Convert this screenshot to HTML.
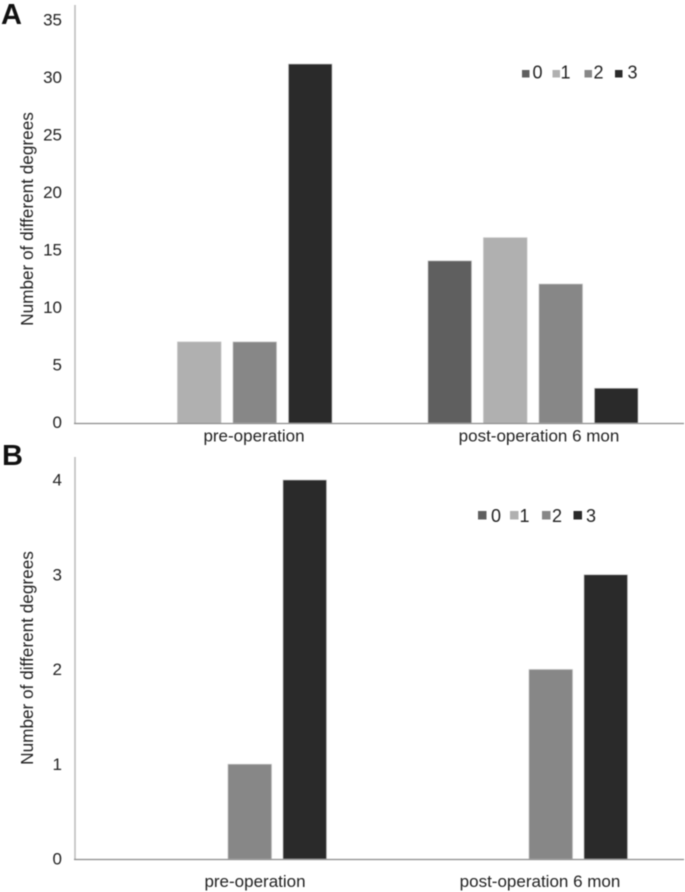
<!DOCTYPE html>
<html>
<head>
<meta charset="utf-8">
<style>
html,body{margin:0;padding:0;background:#fff;width:685px;height:892px;overflow:hidden}
svg{display:block;font-family:"Liberation Sans",sans-serif;filter:blur(0.4px)}
</style>
</head>
<body>
<svg id="figure" width="685" height="892" viewBox="0 0 685 892" xmlns="http://www.w3.org/2000/svg">
<rect width="685" height="892" fill="#fff"/>
<text x="1" y="24" font-size="29" font-weight="bold" fill="#111">A</text>
<text x="2" y="465" font-size="29" font-weight="bold" fill="#111">B</text>
<g id="panelA"></g>
<g id="panelB"></g>
</svg>
<script>
const categories = ["pre-operation", "post-operation 6 mon"];
const seriesNames = ["0", "1", "2", "3"];
const seriesColors = ["#5f5f5f", "#b0b0b0", "#878787", "#2a2a2a"];
const panelASeries0 = [0, 14];
const panelASeries1 = [7, 16];
const panelASeries2 = [7, 12];
const panelASeries3 = [31, 3];
const panelATicks = [0, 5, 10, 15, 20, 25, 30, 35];
const panelBSeries0 = [0, 0];
const panelBSeries1 = [0, 0];
const panelBSeries2 = [1, 2];
const panelBSeries3 = [4, 3];
const panelBTicks = [0, 1, 2, 3, 4];
const yAxisTitle = "Number of different degrees";

const NS = "http://www.w3.org/2000/svg";
function make(parent, tag, attrs, text) {
  const el = document.createElementNS(NS, tag);
  for (const k in attrs) el.setAttribute(k, attrs[k]);
  if (text !== undefined) el.textContent = text;
  parent.appendChild(el);
  return el;
}

function drawPanel(root, cfg) {
  const yScale = v => cfg.baseY - (v - cfg.tickMin) * cfg.unit;
  const tickY = v => cfg.baseY - (v - cfg.tickMin) * cfg.tickUnit;
  const groupX = i => cfg.firstGroupX + i * cfg.groupStep;
  const barX = (i, s) => groupX(i) + s * cfg.barStep;
  const labelX = i => cfg.firstLabelX + i * cfg.labelStep;

  const yAxis = make(root, "line", {x1: 75, x2: 75, y1: cfg.axisTop, y2: cfg.baseY, stroke: "#bdbdbd", "stroke-width": 1.6});
  
  

  cfg.ticks.forEach(t => {
    const lab = make(root, "text", {x: 62, y: tickY(t) + cfg.tickDy, "font-size": 17, fill: "#222", "text-anchor": "end"}, String(t));
    
    
  });

  const title = make(root, "text", {x: 0, y: 0, "font-size": 17.2, fill: "#222", "text-anchor": "middle", transform: "translate(" + cfg.titleX + "," + cfg.titleY + ") rotate(-90)"}, yAxisTitle);
  
  

  cfg.series.forEach((vals, s) => {
    vals.forEach((v, i) => {
      if (v <= 0) return;
      const r = make(root, "rect", {x: barX(i, s), y: yScale(v), width: cfg.barW, height: cfg.baseY - yScale(v), fill: seriesColors[s], stroke: "#c4c4c4", "stroke-width": 0.7});
      
      
    });
  });

  const xAxis = make(root, "line", {x1: 74, x2: 684, y1: cfg.baseY + 0.5, y2: cfg.baseY + 0.5, stroke: "#8c8c8c", "stroke-width": 1.3});
  
  

  categories.forEach((c, i) => {
    const lab = make(root, "text", {x: labelX(i), y: cfg.catY, "font-size": 17, fill: "#222", "text-anchor": "middle"}, c);
    
    
  });

  seriesNames.forEach((n, s) => {
    const sw = make(root, "rect", {x: cfg.legendSw[s], y: cfg.legendY, width: cfg.legendSize, height: cfg.legendSize, fill: seriesColors[s]});
    
    
    const lt = make(root, "text", {x: cfg.legendTx[s], y: cfg.legendBase, "font-size": 18, fill: "#222"}, n);
    
    
  });
}

drawPanel(document.getElementById("panelA"), {
  series: [panelASeries0, panelASeries1, panelASeries2, panelASeries3],
  ticks: panelATicks, tickMin: 0, baseY: 423, unit: 11.58, tickUnit: 11.5, tickDy: 4.8, axisTop: 5,
  firstGroupX: 122, groupStep: 306, barStep: 55.5, barW: 43.5, firstLabelX: 254, labelStep: 285,
  catY: 441.5, titleX: 33, titleY: 219,
  legendSw: [522, 552.5, 584.5, 615], legendTx: [532.5, 560.5, 593.5, 627.5], legendY: 70, legendSize: 7.5, legendBase: 78.5
});
drawPanel(document.getElementById("panelB"), {
  series: [panelBSeries0, panelBSeries1, panelBSeries2, panelBSeries3],
  ticks: panelBTicks, tickMin: 0, baseY: 859, unit: 94.75, tickUnit: 94.75, tickDy: 5.5, axisTop: 457,
  firstGroupX: 118, groupStep: 301, barStep: 55, barW: 43.5, firstLabelX: 255, labelStep: 285,
  catY: 887, titleX: 33, titleY: 658,
  legendSw: [478, 510, 542, 573.5], legendTx: [491, 519.5, 552, 586], legendY: 511, legendSize: 8.5, legendBase: 522
});
</script>
</body>
</html>
